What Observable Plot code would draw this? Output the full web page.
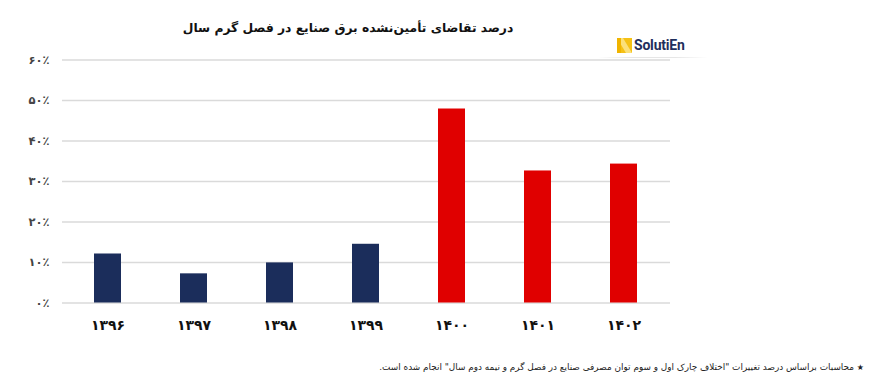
<!DOCTYPE html>
<html lang="fa">
<head>
<meta charset="utf-8">
<script src="https://cdn.jsdelivr.net/npm/d3@7"></script>
<script src="https://cdn.jsdelivr.net/npm/@observablehq/plot@0.6"></script>
<style>
  html, body { margin: 0; padding: 0; background: #fff; }
  #wrap { position: relative; width: 869px; height: 391px; overflow: hidden; font-family: "DejaVu Sans", sans-serif; }
  #title { position: absolute; left: 0; width: 696px; top: 21px; text-align: center; direction: rtl;
           font-weight: bold; font-size: 12.3px; color: #111; }
  #logo { position: absolute; left: 617px; top: 37px; display: flex; align-items: center; }
  #logo span { font-family: "Roboto", "DejaVu Sans", sans-serif; font-weight: bold; font-size: 14px; color: #1f2e5c; margin-left: 2px; letter-spacing: -0.2px; }
  #logoline { position: absolute; left: 598px; top: 57px; width: 110px; height: 1px; background: linear-gradient(90deg, rgba(220,220,220,0), #e6e6e6 30%, #e6e6e6 70%, rgba(220,220,220,0)); }
  #note { position: absolute; right: 5px; top: 362px; direction: rtl; font-size: 8.9px; color: #222; white-space: nowrap; }
  #note .star { font-size: 8px; }
  #chart { position: absolute; left: 0; top: 0; }
</style>
</head>
<body>
<div id="wrap">
  <div id="chart"></div>
  <div id="title">درصد تقاضای تأمین‌نشده برق صنایع در فصل گرم سال</div>
  <div id="logo">
    <svg width="15" height="15" viewBox="0 0 15 15">
      <rect x="0" y="0" width="15" height="15" fill="#f5c116"/>
      <path d="M0 0 L6 0 L15 15 L9 15 Z" fill="#fbe07a"/>
      <path d="M0 0 L4 0 L4 15 L0 15 Z" fill="#f0b400"/>
    </svg>
    <span>SolutiEn</span>
  </div>
  <div id="logoline"></div>
  <div id="note"><span class="star">★</span> محاسبات براساس درصد تغییرات "اختلاف چارک اول و سوم توان مصرفی صنایع در فصل گرم و نیمه دوم سال" انجام شده است.</div>
</div>
<script>
// ---- data ----
const years = ["۱۳۹۶", "۱۳۹۷", "۱۳۹۸", "۱۳۹۹", "۱۴۰۰", "۱۴۰۱", "۱۴۰۲"];
const values = [12.1, 7.2, 9.9, 14.5, 47.9, 32.6, 34.3];
const periods = ["before", "before", "before", "before", "after", "after", "after"];
const yTicks = [0, 10, 20, 30, 40, 50, 60];
const yTickLabels = ["۰٪", "۱۰٪", "۲۰٪", "۳۰٪", "۴۰٪", "۵۰٪", "۶۰٪"];

const rows = years.map((y, i) => ({year: y, value: values[i], period: periods[i]}));
const pad = 0.683;

const chart = Plot.plot({
  width: 869,
  height: 391,
  marginLeft: 62,
  marginRight: 199,
  marginTop: 59.5,
  marginBottom: 88.5,
  style: {fontFamily: "DejaVu Sans, sans-serif", background: "transparent"},
  x: {domain: years, paddingInner: pad, paddingOuter: pad / 2, label: null},
  y: {domain: [0, 60], label: null},
  color: {domain: ["before", "after"], range: ["#1b2d5b", "#e00000"]},
  marks: [
    Plot.gridY(yTicks, {stroke: "#dadada", strokeOpacity: 1, strokeWidth: 1.3}),
    Plot.axisY(yTicks, {
      tickSize: 0, tickPadding: 13, fontSize: 11.5, fontWeight: "bold", fill: "#444",
      tickFormat: d => yTickLabels[yTicks.indexOf(d)], label: null
    }),
    Plot.barY(rows, {x: "year", y: "value", fill: "period"}),
    Plot.axisX({tickSize: 0, tickPadding: 17, fontSize: 14, fontWeight: "bold", fill: "#111", label: null})
  ]
});
document.getElementById("chart").appendChild(chart);
</script>
</body>
</html>
